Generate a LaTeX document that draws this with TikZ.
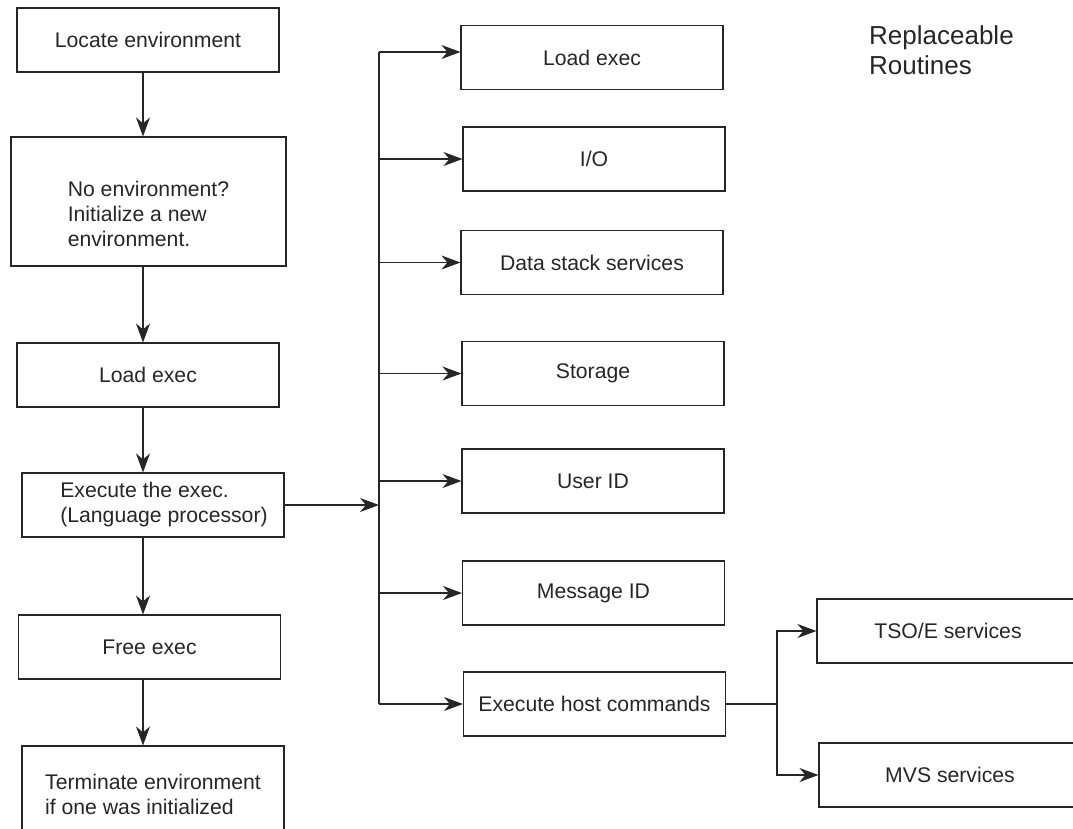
\documentclass[tikz,border=0pt]{standalone}
\usepackage{fontspec}
\setmainfont{Liberation Sans}
\usetikzlibrary{arrows.meta}

\tikzset{
  box/.style={draw, line width=1.1pt, minimum width=262pt, minimum height=64pt, inner sep=0pt},
  wire/.style={draw, line width=1.1pt},
  arr/.style={wire, -{Stealth[length=19pt,width=14pt,inset=6pt]}}
}

\begin{document}
\begin{tikzpicture}[x=1pt,y=-1pt,color=black!85,font=\fontsize{21.2}{25}\selectfont]
                  \useasboundingbox (0,0) rectangle (1073,828);
                  \coordinate (spine) at (143,0);
                  \coordinate (bus) at (379,0);
                  \coordinate (fork) at (777,0);
                  \node[box] (Loc) at (148,40) {Locate environment};
                  \node[box, minimum width=275pt, minimum height=129pt,
                        label={[align=left,yshift=-12pt]center:No environment?\\Initialize a new\\environment.}] (Init) at (148.5,201.5) {};
                  \node[box] (Load) at (148,375) {Load exec};
                  \node[box, label={[align=left,xshift=11pt]center:Execute the exec.\\(Language processor)}] (Run) at (153,505) {};
                  \node[box] (Free) at (149.5,647) {Free exec};
                  \node[box, minimum height=97pt, align=left] (Term) at (153,794.5) {Terminate environment\\if one was initialized};
                  \node[box] (RLoad) at (592,57.5) {Load exec};
                  \node[box] (IO) at (594,159) {I/O};
                  \node[box] (Stack) at (592,262.5) {Data stack services};
                  \node[box] (Stor) at (593,373.5) {Storage};
                  \node[box] (User) at (593,481) {User ID};
                  \node[box] (Msg) at (593.5,593) {Message ID};
                  \node[box] (Host) at (594.5,704) {Execute host commands};
                  \node[box] (TSO) at (948,631) {TSO/E services};
                  \node[box] (MVS) at (950,775) {MVS services};
                  \node[align=left, anchor=north west, inner sep=0pt, font=\fontsize{26}{30}\selectfont] (Title) at (869,25) {Replaceable\\Routines};
                  \foreach \a/\b in {Loc/Init,Init/Load,Load/Run,Run/Free,Free/Term}
                    \draw[arr] (\a.south -| spine) -- (\b.north -| spine);
                  \draw[arr] (Run.east) -- (Run.east -| bus);
                  \draw[wire] ([yshift=5.5pt]RLoad.west -| bus) -- (bus |- Host.west);
                  \draw[arr] ([yshift=5.5pt]RLoad.west -| bus) -- ([yshift=5.5pt]RLoad.west);
                  \foreach \n in {IO,Stack,Stor,User,Msg,Host}
                    \draw[arr] (bus |- \n.west) -- (\n.west);
                  \draw[wire] (Host.east) -- (Host.east -| fork);
                  \draw[arr] (Host.east -| fork) |- (TSO.west);
                  \draw[arr] (Host.east -| fork) |- (MVS.west);
              \end{tikzpicture}
\end{document}
